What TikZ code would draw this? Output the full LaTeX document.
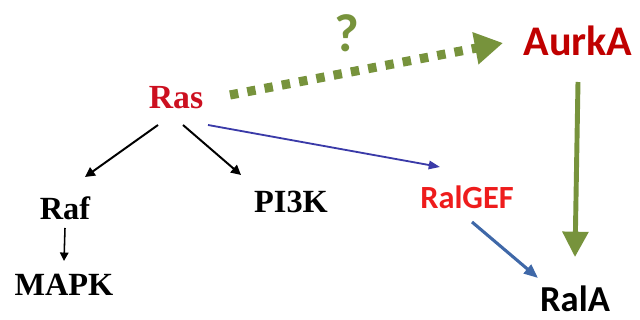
\documentclass[tikz,border=0pt]{standalone}
\usepackage{fontspec}
\setmainfont{Liberation Serif}
\newfontfamily\calfont{Carlito}
\usetikzlibrary{arrows.meta,calc}
\definecolor{olivegreen}{HTML}{77933C}
\definecolor{darkred}{HTML}{C00000}
\definecolor{brightred}{HTML}{EE1C1C}
\definecolor{rasred}{HTML}{CC1020}
\definecolor{navy}{HTML}{3A3AA8}
\definecolor{steel}{HTML}{3F68A8}
\tikzset{
  lbl/.style={inner sep=0pt, anchor=center},
  serifb/.style={lbl, font=\fontsize{23}{23}\selectfont\bfseries},
  blk/.style={black, line width=1.4pt, -{Triangle[length=7pt,width=7pt]}},
}
\begin{document}
\begin{tikzpicture}[x=0.025cm,y=-0.025cm]
\useasboundingbox (0,0) rectangle (640,320);
\node[serifb, text=rasred, font=\fontsize{24}{24}\selectfont\bfseries] (ras) at (176,98) {Ras};
\node[serifb] (raf) at (65,208) {Raf};
\node[serifb] (mapk) at (64,285) {MAPK};
\node[serifb] (pi3k) at (291,202) {PI3K};
\node[lbl, text=brightred, font=\calfont\fontsize{23}{23}\selectfont\bfseries] (ralgef) at (467,197) {RalGEF};
\node[lbl, text=black, font=\calfont\fontsize{26}{26}\selectfont\bfseries] (rala) at (575,299) {RalA};
\node[lbl, text=darkred, font=\calfont\fontsize{30}{30}\selectfont\bfseries] (aurka) at (578,41) {AurkA};
\node[lbl, text=olivegreen, font=\calfont\fontsize{38}{38}\selectfont\bfseries] (q) at (347,33) {?};
% black arrows
\draw[blk] ($(ras)+(-18,27)$) -- ($(raf)+(20,-31)$);
\draw[blk] ($(ras)+(7,27)$) -- ($(pi3k)+(-50,-27)$);
\draw[black, line width=1.1pt, -{Triangle[length=6pt,width=6pt]}] ($(raf)+(0,20)$) -- ($(mapk)+(0,-24)$);
% blue arrows
\draw[navy, line width=1.3pt, -{Triangle[length=8pt,width=6pt]}] ($(ras)+(32,27)$) -- ($(ralgef)+(-27,-30)$);
\draw[steel, line width=2.2pt, -{Triangle[length=10pt,width=8pt]}] ($(ralgef)+(5,25)$) -- ($(rala)+(-37,-21)$);
% green arrows
\draw[olivegreen, line width=6.5pt, dash pattern=on 6pt off 6.5pt, -{Triangle[length=20pt,width=22pt]}] ($(ras)+(54,-3)$) -- ($(aurka)+(-75,2)$);
\draw[olivegreen, line width=3.5pt, -{Triangle[length=18pt,width=18pt]}] ($(aurka)+(0,41)$) -- ($(rala)+(0,-42)$);
\end{tikzpicture}
\end{document}
